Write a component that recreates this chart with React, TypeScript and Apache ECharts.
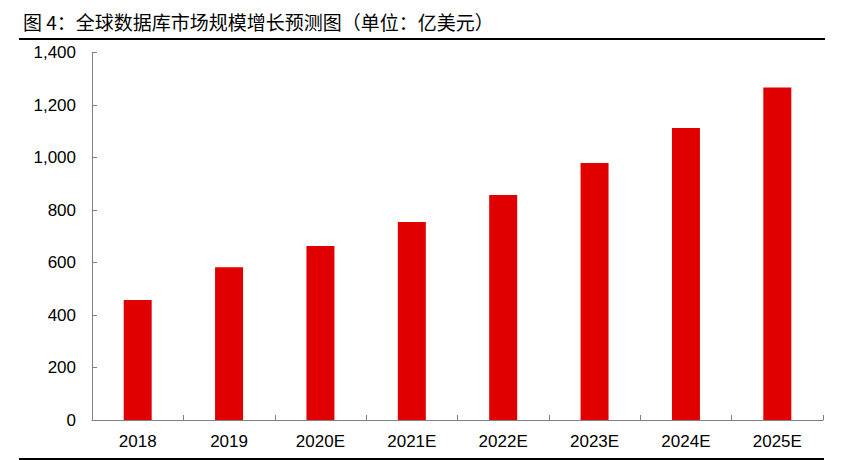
import { useEffect, useRef } from 'react';
import * as echarts from 'echarts';

const years = ['2018', '2019', '2020E', '2021E', '2022E', '2023E', '2024E', '2025E'];
const marketSize = [457, 582, 663, 755, 858, 980, 1113, 1267];
const yTicks = { min: 0, max: 1400, interval: 200 };

const titleText = '图 4：全球数据库市场规模增长预测图（单位：亿美元）';
const barColor = '#E00000';
const axisColor = '#808080';
const labelFont = '"Liberation Sans", Arial, sans-serif';

export default function App() {
  const ref = useRef<HTMLDivElement | null>(null);

  useEffect(() => {
    if (!ref.current) return;
    const chart = echarts.init(ref.current, undefined, { renderer: 'svg' });
    chart.setOption({
      animation: false,
      backgroundColor: '#fff',
      title: {
        text: titleText,
        left: 18,
        top: 7,
        textStyle: { fontFamily: '"Noto Sans CJK SC", sans-serif', fontSize: 19, fontWeight: 'normal', color: '#000' },
      },
      graphic: [
        { type: 'line', shape: { x1: 19, y1: 39, x2: 825, y2: 39 }, style: { stroke: '#000', lineWidth: 2 } },
        { type: 'line', shape: { x1: 19, y1: 459, x2: 824, y2: 459 }, style: { stroke: '#000', lineWidth: 2 } },
      ],
      grid: { left: 92, right: 19, top: 52.7, bottom: 40, containLabel: false },
      xAxis: {
        type: 'category',
        data: years,
        axisLine: { lineStyle: { color: axisColor, width: 1 } },
        axisTick: { show: true, inside: true, length: 5, lineStyle: { color: axisColor } },
        axisLabel: { color: '#000', fontSize: 17, fontFamily: labelFont, margin: 13 },
      },
      yAxis: {
        type: 'value',
        ...yTicks,
        axisLine: { show: true, lineStyle: { color: axisColor, width: 1 } },
        axisTick: { show: true, inside: true, length: 5, lineStyle: { color: axisColor } },
        splitLine: { show: false },
        axisLabel: {
          color: '#000',
          fontSize: 17,
          fontFamily: labelFont,
          margin: 16,
          formatter: (v: number) => v.toLocaleString('en-US'),
        },
      },
      series: [
        {
          type: 'bar',
          data: marketSize,
          barWidth: 28,
          itemStyle: { color: barColor },
        },
      ],
    });
    return () => chart.dispose();
  }, []);

  return <div ref={ref} style={{ position: 'fixed', left: 0, top: 0, width: 842, height: 460 }} />;
}
